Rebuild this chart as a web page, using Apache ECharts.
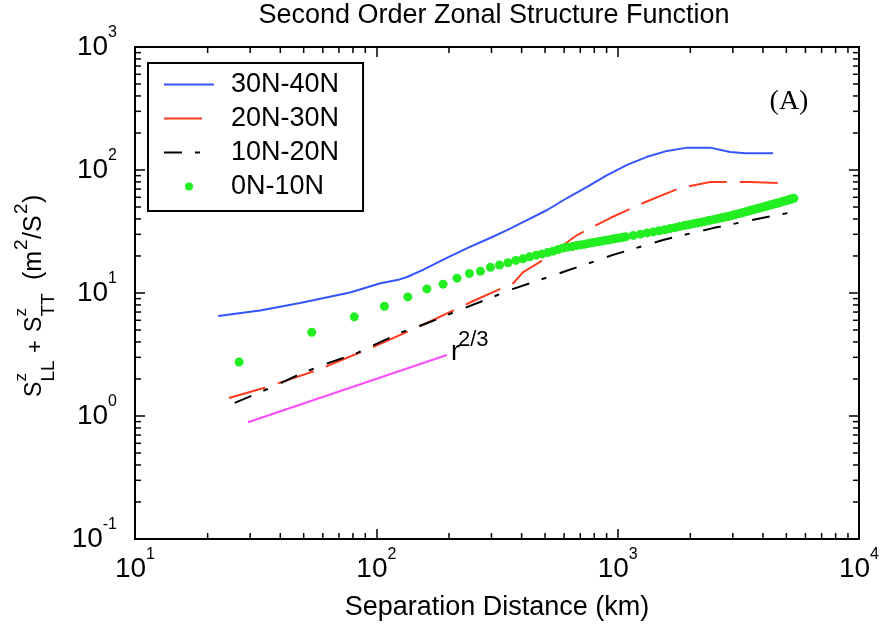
<!DOCTYPE html>
<html>
<head>
<meta charset="utf-8">
<title>Second Order Zonal Structure Function</title>
<script src="https://cdn.jsdelivr.net/npm/echarts@6/dist/echarts.min.js"></script>
<style>
  html, body { margin: 0; padding: 0; background: #fff; }
  #chart { width: 883px; height: 630px; }
</style>
</head>
<body>
<div id="chart"></div>
<script>
// Separation distance (km) and structure function values (m^2/s^2) per latitude band
const lag30N40N = [22.1, 33, 48.3, 77.8, 104, 125, 134, 156, 196, 238, 296, 348, 421, 510, 617, 747, 904, 1094, 1324, 1603, 1940, 2416, 2924, 3375, 4406];
const s30N40N   = [6.5, 7.2, 8.3, 10.1, 12.0, 12.9, 13.5, 15.4, 19.3, 23.2, 28.0, 32.5, 39.2, 47.3, 59.2, 72.8, 91, 110, 128, 143, 152, 152, 140, 137, 137];

const lag20N30N = [24.5, 35.2, 57.3, 96.8, 162, 252, 369, 406, 477, 679, 931, 1275, 1814, 2416, 3540, 4840];
const s20N30N   = [1.40, 1.72, 2.37, 3.64, 5.70, 8.61, 12.0, 14.8, 17.9, 29.6, 40.7, 53.9, 71.5, 79.8, 79.8, 78.3];

const lag10N20N = [25.9, 37, 48.3, 60.1, 83.2, 125, 167, 222, 269, 369, 594, 957, 1542, 2483, 4158, 5082];
const s10N20N   = [1.28, 1.72, 2.19, 2.60, 3.25, 4.73, 5.81, 7.3, 8.45, 10.8, 14.8, 20.4, 27.0, 33.7, 41.5, 44.7];

const lag0N10N = [27, 54, 81, 108, 135, 162, 189, 216, 243, 270,
  297, 324, 351, 378, 405, 432, 459, 486, 513, 540,
  567, 594, 621, 648, 675, 702, 729, 756, 783, 810,
  837, 864, 891, 918, 945, 972, 999, 1026, 1053, 1080,
  1161, 1242, 1323, 1404, 1485, 1566, 1647, 1728, 1809, 1890,
  1971, 2052, 2133, 2214, 2295, 2376, 2457, 2538, 2619, 2700,
  2781, 2862, 2943, 3024, 3105, 3186, 3267, 3348, 3429, 3510,
  3591, 3672, 3753, 3834, 3915, 3996, 4077, 4158, 4239, 4320,
  4401, 4482, 4563, 4644, 4725, 4806, 4887, 4968, 5049, 5130,
  5211, 5292, 5373];
const s0N10N = [2.75, 4.8, 6.4, 7.8, 9.3, 10.8, 11.8, 13.2, 14.4, 15.0,
  16.2, 16.9, 17.6, 18.4, 19.0, 19.7, 20.3, 20.8, 21.3, 21.9,
  22.6, 23.2, 23.6, 23.9, 24.3, 24.6, 24.9, 25.3, 25.6, 25.9,
  26.2, 26.5, 26.8, 27.0, 27.3, 27.6, 27.9, 28.1, 28.4, 28.6,
  29.4, 30.1, 30.8, 31.4, 32.1, 32.7, 33.4, 34.0, 34.7, 35.3,
  35.9, 36.5, 37.1, 37.6, 38.2, 38.8, 39.3, 39.8, 40.4, 40.9,
  41.4, 41.9, 42.4, 43.0, 43.6, 44.3, 44.8, 45.4, 46.0, 46.6,
  47.2, 47.7, 48.3, 48.8, 49.4, 49.9, 50.5, 51.0, 51.6, 52.1,
  52.7, 53.2, 53.7, 54.2, 54.8, 55.3, 55.8, 56.3, 56.8, 57.3,
  57.8, 58.3, 58.8];

// r^(2/3) reference slope
const lagSlope = [29.4, 196];
const sSlope   = [0.89, 3.13];

// Axis ranges and minor tick positions
const xRange = [10, 10000];
const yRange = [0.1, 1000];
const xMinorTicks = [20, 30, 40, 50, 60, 70, 80, 90, 200, 300, 400, 500, 600, 700, 800, 900, 2000, 3000, 4000, 5000, 6000, 7000, 8000, 9000];
const yMinorTicks = [0.2, 0.3, 0.4, 0.5, 0.6, 0.7, 0.8, 0.9, 2, 3, 4, 5, 6, 7, 8, 9, 20, 30, 40, 50, 60, 70, 80, 90, 200, 300, 400, 500, 600, 700, 800, 900];

const bandNames = ['30N-40N', '20N-30N', '10N-20N', '0N-10N'];

const FONT = '"Liberation Sans", Arial, Helvetica, sans-serif';
const SERIF = '"Liberation Serif", "Times New Roman", serif';

function pairs(xs, ys) { return xs.map((x, i) => [x, ys[i]]); }

function powerLabel(value) {
  const e = Math.round(Math.log10(value));
  return '{b|10}{s|' + e + '}';
}
const powerRich = {
  b: { fontSize: 28, fontFamily: FONT, color: '#000', lineHeight: 44 },
  s: { fontSize: 16, fontFamily: FONT, color: '#000', lineHeight: 15, verticalAlign: 'top' }
};

const frameLine = { show: true, onZero: false, lineStyle: { color: '#000', width: 2 } };
const majorTick = { show: true, inside: true, length: 10, lineStyle: { color: '#000', width: 1.5 } };

function minorTicksX(params, api) {
  const cs = params.coordSys;
  const x = api.coord([api.value(0), 1])[0];
  const bottom = cs.y + cs.height, top = cs.y;
  const st = { stroke: '#000', lineWidth: 1.5 };
  return { type: 'group', children: [
    { type: 'line', shape: { x1: x, y1: bottom, x2: x, y2: bottom - 6 }, style: st },
    { type: 'line', shape: { x1: x, y1: top, x2: x, y2: top + 6 }, style: st }
  ] };
}
function minorTicksY(params, api) {
  const cs = params.coordSys;
  const y = api.coord([100, api.value(1)])[1];
  const left = cs.x, right = cs.x + cs.width;
  const st = { stroke: '#000', lineWidth: 1.5 };
  return { type: 'group', children: [
    { type: 'line', shape: { x1: left, y1: y, x2: left + 6, y2: y }, style: st },
    { type: 'line', shape: { x1: right, y1: y, x2: right - 6, y2: y }, style: st }
  ] };
}

function txt(x, y, text, size, family, align) {
  const a = align || 'left';
  return {
    type: 'text', silent: true,
    style: {
      x: x, y: y, text: text, fill: '#000',
      font: size + 'px ' + family,
      align: a, verticalAlign: 'middle',
      textAlign: a, textVerticalAlign: 'middle'
    }
  };
}

const chart = echarts.init(document.getElementById('chart'), null, { renderer: 'canvas' });

chart.setOption({
  animation: false,
  backgroundColor: '#fff',
  grid: { left: 135, right: 24, top: 47, bottom: 91, containLabel: false, outerBoundsMode: 'none' },
  legend: {
    orient: 'vertical',
    left: 148, top: 63,
    data: [
      { name: bandNames[0], itemStyle: { opacity: 0 } },
      { name: bandNames[1], itemStyle: { opacity: 0 } },
      { name: bandNames[2], itemStyle: { opacity: 0 } },
      { name: bandNames[3] }
    ],
    itemWidth: 50, itemHeight: 8, itemGap: 7,
    padding: [8, 24, 11, 15],
    borderColor: '#000', borderWidth: 2, borderRadius: 0,
    backgroundColor: '#fff',
    selectedMode: false,
    textStyle: { fontSize: 27, fontFamily: FONT, color: '#000', lineHeight: 27, padding: [0, 0, 0, 12] }
  },
  xAxis: [
    {
      type: 'log', logBase: 10, min: xRange[0], max: xRange[1], position: 'bottom',
      axisLine: frameLine, axisTick: majorTick, splitLine: { show: false },
      axisLabel: { margin: 8, formatter: powerLabel, rich: powerRich },
      name: 'Separation Distance (km)', nameLocation: 'middle', nameGap: 55,
      nameTextStyle: { fontSize: 27, fontFamily: FONT, color: '#000' }
    },
    {
      type: 'log', logBase: 10, min: xRange[0], max: xRange[1], position: 'top',
      axisLine: frameLine, axisTick: majorTick, splitLine: { show: false },
      axisLabel: { show: false }
    }
  ],
  yAxis: [
    {
      type: 'log', logBase: 10, min: yRange[0], max: yRange[1], position: 'left',
      axisLine: frameLine, axisTick: majorTick, splitLine: { show: false },
      axisLabel: { margin: 18, formatter: powerLabel, rich: powerRich }
    },
    {
      type: 'log', logBase: 10, min: yRange[0], max: yRange[1], position: 'right',
      axisLine: frameLine, axisTick: majorTick, splitLine: { show: false },
      axisLabel: { show: false }
    }
  ],
  series: [
    {
      name: bandNames[0], type: 'line', data: pairs(lag30N40N, s30N40N),
      symbol: 'none', showSymbol: false, color: '#3355ff',
      lineStyle: { color: '#3355ff', width: 2 }, z: 3
    },
    {
      name: bandNames[1], type: 'line', data: pairs(lag20N30N, s20N30N),
      symbol: 'none', showSymbol: false, color: '#ff3c1e',
      lineStyle: { color: '#ff3c1e', width: 2, type: [38, 13] }, z: 3
    },
    {
      name: bandNames[2], type: 'line', data: pairs(lag10N20N, s10N20N),
      symbol: 'none', showSymbol: false, color: '#000',
      lineStyle: { color: '#000', width: 2, type: [18, 13, 5, 14] }, z: 3
    },
    {
      name: bandNames[3], type: 'scatter', data: pairs(lag0N10N, s0N10N),
      symbol: 'circle', symbolSize: 9, color: '#22ee22',
      itemStyle: { color: '#22ee22', opacity: 1 }, z: 4
    },
    {
      name: 'r^(2/3)', type: 'line', data: pairs(lagSlope, sSlope),
      symbol: 'none', showSymbol: false, color: '#ff4cff',
      lineStyle: { color: '#ff4cff', width: 2 }, z: 3
    },
    {
      type: 'custom', renderItem: minorTicksX, silent: true, z: 5,
      data: xMinorTicks.map(v => [v, 1]), encode: { x: 0, y: 1 }
    },
    {
      type: 'custom', renderItem: minorTicksY, silent: true, z: 5,
      data: yMinorTicks.map(v => [100, v]), encode: { x: 0, y: 1 }
    }
  ],
  graphic: [
    txt(494, 16, 'Second Order Zonal Structure Function', 27, FONT, 'center'),
    txt(789, 102, '(A)', 28, SERIF, 'center'),
    txt(451, 352.6, 'r', 27, FONT),
    txt(458, 340.4, '2/3', 22, FONT),
    {
      // rotated y-axis title: S^z_LL + S^z_TT (m^2/S^2)
      type: 'group', x: 42, y: 397, rotation: Math.PI / 2, silent: true,
      children: [
        txt(0, -7.5, 'S', 23, FONT),
        txt(15.5, -21, 'z', 17, FONT),
        txt(15.5, 7, 'LL', 19, FONT),
        txt(44, -6.5, '+', 22, FONT),
        txt(65, -7.5, 'S', 23, FONT),
        txt(80.5, -21, 'z', 17, FONT),
        txt(80.5, 7, 'TT', 19, FONT),
        txt(117, -8, '(m', 25, FONT),
        txt(147, -20, '2', 19, FONT),
        txt(158, -8, '/S', 25, FONT),
        txt(183, -20, '2', 19, FONT),
        txt(194, -8, ')', 25, FONT)
      ]
    }
  ]
});
</script>
</body>
</html>
